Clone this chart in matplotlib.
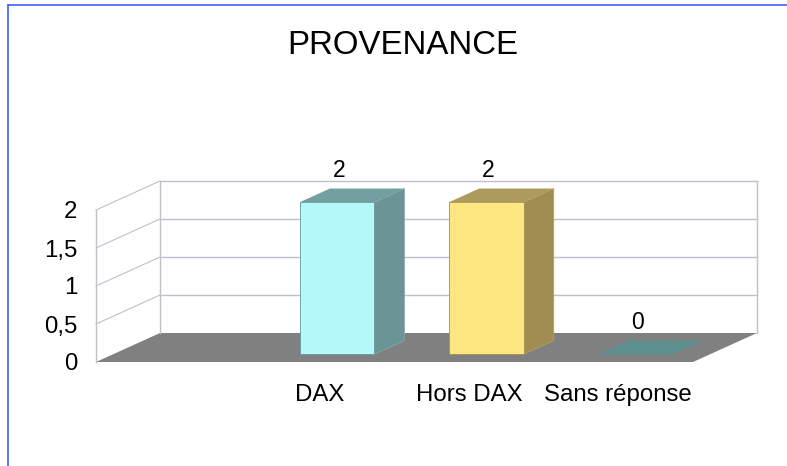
"""PROVENANCE - pseudo 3D bar chart."""
import numpy as np
import matplotlib
matplotlib.use('Agg')
from matplotlib import pyplot as plt
from matplotlib.patches import Polygon
from matplotlib.lines import Line2D

plt.rcParams['font.family'] = ['Liberation Sans', 'DejaVu Sans']

title = 'PROVENANCE'
categories = ['', 'DAX', 'Hors DAX', 'Sans réponse']
values = [np.nan, 2, 2, 0]
yticks = [0, 0.5, 1, 1.5, 2]
ytick_labels = ['0', '0,5', '1', '1,5', '2']

front_colors = ['#b3f9f9', '#b3f9f9', '#fee781', '#7fb5b5']
side_colors = ['#6b9594', '#6b9594', '#a18d51', '#5f8f8f']
top_colors = ['#72a0a0', '#72a0a0', '#ad9b5d', '#5e9090']

W, H = 787, 466
fig = plt.figure(figsize=(W / 100, H / 100), dpi=100)

# front plane of the chart, in pixels
left, right, bottom, top = 96, 693, 362, 210
ax = fig.add_axes([left / W, 1 - bottom / H, (right - left) / W, (bottom - top) / H])
ax.set_xlim(-0.5, len(categories) - 0.5)
ax.set_ylim(0, 2)
for s in ax.spines.values():
    s.set_visible(False)
ax.set_facecolor('none')

# depth vector (64 px right, 29 px up) converted into data units
px_x = (right - left) / len(categories)
px_y = (bottom - top) / 2
ddx, ddy = 64 / px_x, 29 / px_y

def back(x, y, f=1.0):
    return (x + f * ddx, y + f * ddy)

grid_col = '#c0c0c8'
x0, x1 = -0.5, len(categories) - 0.5

# floor
ax.add_patch(Polygon([(x0, 0), (x1, 0), back(x1, 0), back(x0, 0)], closed=True,
                     facecolor='#808080', edgecolor='none', zorder=1, clip_on=False))

# back wall grid + left wall
for v in yticks[1:]:
    bx0, by = back(x0, v)
    bx1, _ = back(x1, v)
    ax.plot([bx0, bx1], [by, by], color=grid_col, lw=1, zorder=2, clip_on=False)
    ax.plot([x0, bx0], [v, by], color=grid_col, lw=0.8, zorder=2, clip_on=False)
for xe in (x0, x1):
    bx, by0 = back(xe, 0)
    ax.plot([bx, bx], [by0, by0 + 2], color=grid_col, lw=1, zorder=2, clip_on=False)
ax.plot([x0, x0], [0, 2], color=grid_col, lw=1, zorder=2, clip_on=False)

# bars
f0, f1 = 0.27, 0.74
hw = 0.25
for i, v in enumerate(values):
    if np.isnan(v):
        continue
    fl, fb = back(i - hw, 0, f0)
    fr, _ = back(i + hw, 0, f0)
    bl, bb = back(i - hw, 0, f1)
    br, _ = back(i + hw, 0, f1)
    ft, bt = fb + v, bb + v
    if v > 0:
        ax.add_patch(Polygon([(fr, fb), (br, bb), (br, bt), (fr, ft)], closed=True,
                             facecolor=side_colors[i], edgecolor='#8aa9a8' if i < 2 else '#b8a468',
                             lw=0.5, zorder=3, clip_on=False))
        ax.add_patch(Polygon([(fl, fb), (fr, fb), (fr, ft), (fl, ft)], closed=True,
                             facecolor=front_colors[i], edgecolor=side_colors[i],
                             lw=0.6, zorder=4, clip_on=False))
    ax.add_patch(Polygon([(fl, ft), (fr, ft), (br, bt), (bl, bt)], closed=True,
                         facecolor=top_colors[i], edgecolor='none', zorder=4, clip_on=False))
    # value label
    ax.annotate(f'{v:g}', xy=(i, v), xytext=(19, 33), textcoords='offset pixels',
                ha='center', va='baseline', fontsize=16.5, zorder=5)

ax.set_yticks(yticks)
ax.set_yticklabels(ytick_labels, fontsize=17.3)
ax.set_xticks(range(len(categories)))
ax.set_xticklabels(categories, fontsize=17.3)
ax.tick_params(axis='y', length=0, pad=13.5)
ax.tick_params(axis='x', length=0, pad=16)

fig.text(402.5 / W, 1 - 54 / H, title, ha='center', va='baseline', fontsize=23.8)

# blue frame
fig.add_artist(Line2D([8 / W, 8 / W], [0, 1 - 5 / H], color='#4060ff', lw=1.2))
fig.add_artist(Line2D([8 / W, 1], [1 - 5 / H, 1 - 5 / H], color='#4060ff', lw=1.2))

fig.savefig('out.png', dpi=100)
